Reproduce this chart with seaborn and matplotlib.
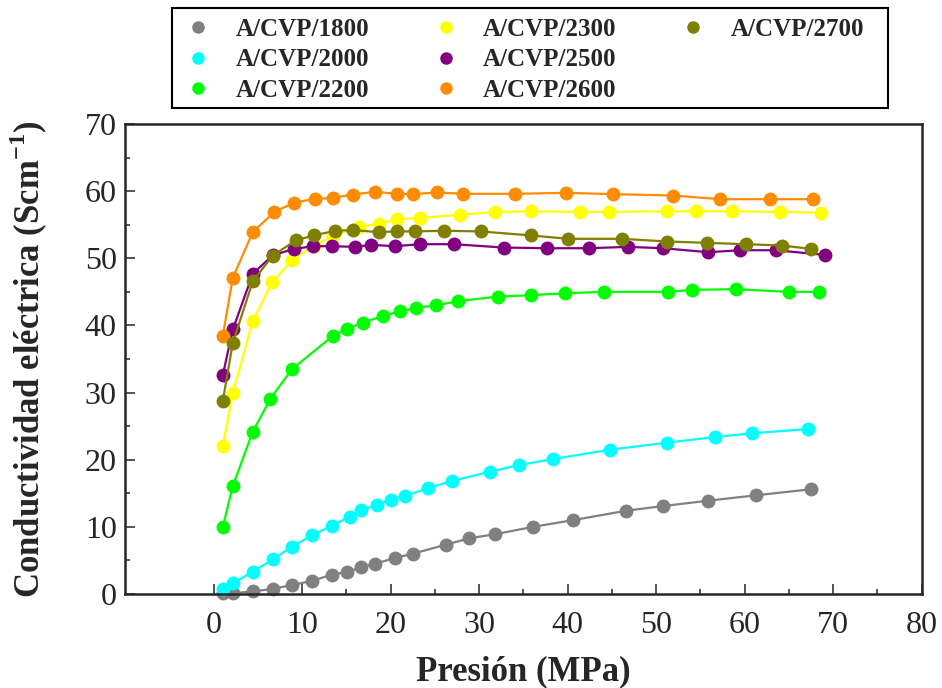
import numpy as np
import pandas as pd
import matplotlib
matplotlib.use("Agg")
import matplotlib.pyplot as plt
from matplotlib.lines import Line2D
from matplotlib.patches import Rectangle
from matplotlib.ticker import MultipleLocator
import seaborn as sns

# --- datos (Presion en MPa, conductividad en S/cm) ---
p_1800 = [1.05, 2.18, 4.44, 6.69, 8.88, 11.14, 13.35, 15.12, 16.67, 18.2, 20.5, 22.5,
          26.3, 28.9, 31.8, 36.1, 40.6, 46.6, 50.8, 55.9, 61.3, 67.5]
s_1800 = [0.1, 0.1, 0.4, 0.75, 1.35, 1.94, 2.88, 3.28, 3.97, 4.48, 5.37, 6.0,
          7.36, 8.3, 8.9, 10.0, 11.0, 12.4, 13.1, 13.9, 14.7, 15.6]

p_2000 = [1.05, 2.18, 4.44, 6.69, 8.88, 11.14, 13.35, 15.38, 16.67, 18.48, 20.0, 21.6,
          24.2, 26.9, 31.2, 34.5, 38.3, 44.8, 51.2, 56.6, 60.8, 67.1]
s_2000 = [0.75, 1.58, 3.33, 5.16, 7.06, 8.75, 10.15, 11.54, 12.48, 13.28, 14.07, 14.57,
          15.76, 16.81, 18.21, 19.19, 20.09, 21.49, 22.54, 23.37, 23.93, 24.57]

p_2200 = [1.05, 2.18, 4.44, 6.43, 8.88, 13.54, 15.12, 16.85, 19.11, 21.07, 22.88, 25.14,
          27.6, 32.1, 35.9, 39.7, 44.1, 51.3, 54.1, 59.0, 65.0, 68.4]
s_2200 = [10.0, 16.1, 24.2, 29.1, 33.5, 38.5, 39.5, 40.4, 41.4, 42.1, 42.6, 43.0,
          43.6, 44.3, 44.5, 44.8, 45.0, 45.0, 45.3, 45.4, 45.0, 45.0]

p_2300 = [1.05, 2.18, 4.44, 6.63, 8.88, 11.32, 13.54, 16.48, 18.66, 20.69, 23.33, 27.84,
          31.83, 35.86, 41.42, 44.73, 51.28, 54.55, 58.62, 63.96, 68.6]
s_2300 = [22.0, 29.9, 40.7, 46.4, 49.75, 51.9, 53.3, 54.7, 55.1, 55.8, 56.0, 56.5,
          56.9, 57.0, 56.9, 56.9, 57.0, 57.0, 57.0, 56.9, 56.8]

p_2500 = [1.05, 2.18, 4.44, 6.69, 9.1, 11.29, 13.35, 16.03, 17.8, 20.51, 23.33, 27.12,
          32.77, 37.62, 42.36, 46.8, 50.8, 55.9, 59.5, 63.5, 69.1]
s_2500 = [32.6, 39.4, 47.7, 50.45, 51.4, 51.8, 51.8, 51.7, 52.0, 51.8, 52.1, 52.1,
          51.6, 51.5, 51.5, 51.7, 51.5, 50.9, 51.2, 51.2, 50.5]

p_2600 = [1.05, 2.18, 4.44, 6.88, 9.1, 11.51, 13.54, 15.72, 18.24, 20.69, 22.5, 25.3,
          28.2, 34.05, 39.84, 45.18, 51.92, 57.26, 62.83, 67.68]
s_2600 = [38.45, 47.1, 53.9, 56.9, 58.3, 58.85, 59.0, 59.5, 59.9, 59.6, 59.55, 59.8,
          59.6, 59.6, 59.75, 59.55, 59.35, 58.8, 58.8, 58.8]

p_2700 = [1.05, 2.18, 4.44, 6.69, 9.33, 11.32, 13.74, 15.72, 18.66, 20.69, 22.72, 26.04,
          30.19, 35.86, 40.07, 46.13, 51.28, 55.7, 60.1, 64.2, 67.5]
s_2700 = [28.75, 37.4, 46.6, 50.4, 52.7, 53.4, 54.1, 54.2, 53.9, 54.0, 54.0, 54.1,
          54.0, 53.4, 52.9, 52.9, 52.5, 52.3, 52.1, 51.9, 51.4]

series = ["A/CVP/1800", "A/CVP/2000", "A/CVP/2200", "A/CVP/2300",
          "A/CVP/2500", "A/CVP/2600", "A/CVP/2700"]
colores = ["#808080", "#00FFFF", "#00FF00", "#FFFF00", "#800080", "#FF8C00", "#808000"]

datos = [(p_1800, s_1800), (p_2000, s_2000), (p_2200, s_2200), (p_2300, s_2300),
         (p_2500, s_2500), (p_2600, s_2600), (p_2700, s_2700)]
df = pd.concat([pd.DataFrame({"presion": p, "cond": s, "serie": nombre})
                for nombre, (p, s) in zip(series, datos)], ignore_index=True)

sns.set_style("ticks")
plt.rcParams["font.family"] = ["Liberation Serif", "DejaVu Serif"]
plt.rcParams["mathtext.fontset"] = "custom"
plt.rcParams["mathtext.rm"] = "Liberation Serif"
plt.rcParams["mathtext.bf"] = "Liberation Serif:bold"

fig = plt.figure(figsize=(9.42, 6.88), dpi=100)
ax = fig.add_axes([125 / 942, 94 / 688, 796.7 / 942, 470 / 688])

sns.lineplot(data=df, x="presion", y="cond", hue="serie", hue_order=series,
             palette=dict(zip(series, colores)), marker="o", markersize=10,
             markeredgewidth=0, linewidth=1.6, sort=False, estimator=None,
             legend=False, clip_on=False, ax=ax)

ax.set_xlim(-10, 80)
ax.set_ylim(0, 70)
ax.set_xticks(np.arange(0, 81, 10))
ax.set_xticks(np.arange(5, 80, 10), minor=True)
ax.yaxis.set_major_locator(MultipleLocator(10))
ax.yaxis.set_minor_locator(MultipleLocator(5))
ax.tick_params(which="both", direction="in", width=1.1, labelsize=23)
ax.tick_params(which="major", length=7)
ax.tick_params(which="minor", length=3.6)
ax.tick_params(axis="x", pad=12)
ax.tick_params(axis="y", pad=6)
for sp in ax.spines.values():
    sp.set_linewidth(1.8)

ax.set_xlabel("Presión (MPa)", fontsize=25, fontweight="bold", labelpad=11)
ax.set_ylabel(r"Conductividad eléctrica (Scm$^{\mathbf{-1}}$)", fontsize=25,
              fontweight="bold", labelpad=25)

# leyenda con solo marcadores (3 por columna) y marco rectangular aparte
handles = [Line2D([], [], marker="o", linestyle="", color=c, markersize=9,
                  markeredgewidth=0) for c in colores]
vacio = Line2D([], [], linestyle="", marker="")
fig.legend(handles + [vacio, vacio], series + ["", ""], loc="upper left", ncol=3,
           frameon=False, bbox_to_anchor=(167 / 942, (688 - 5) / 688), borderpad=0,
           handlelength=1.5, handletextpad=0.75, columnspacing=2.3,
           labelspacing=0.31, prop={"size": 18, "weight": "bold"})
fig.patches.append(Rectangle((172 / 942, (688 - 108) / 688), 716 / 942, 100 / 688,
                             transform=fig.transFigure, fill=False,
                             lw=1.5, ec="black"))

fig.savefig("out.png", dpi=100)
